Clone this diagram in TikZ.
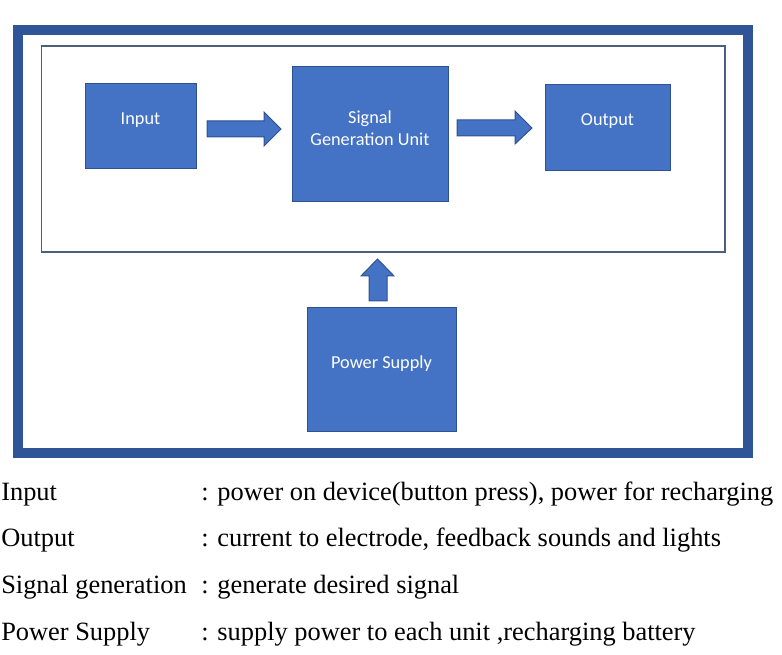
\documentclass[tikz,border=0pt]{standalone}
\usepackage{fontspec}
\setmainfont{Liberation Serif}
\newfontfamily\boxfont{Carlito}
\definecolor{boxfill}{HTML}{4472C4}
\definecolor{boxline}{HTML}{2F528F}
\definecolor{frameblue}{HTML}{2F5597}
\definecolor{innerline}{HTML}{4A5E7E}
\tikzset{
  box/.style={draw=boxline, fill=boxfill, line width=0.75pt, inner sep=0pt},
  boxtext/.style={text=white, font=\boxfont\fontsize{13.7pt}{16.5pt}\selectfont, align=center, inner sep=0pt},
  blockarrow/.style={draw=boxline, fill=boxfill, line width=0.75pt, line join=miter},
  legend/.style={font=\fontsize{19.8pt}{23pt}\selectfont, anchor=base west, inner sep=0pt}
}
\begin{document}
\begin{tikzpicture}[x=0.75pt, y=-0.75pt]
\useasboundingbox (0,0) rectangle (782,655);
% frames
\draw[frameblue, line width=7.5pt] (18,30) rectangle (748,453);
\draw[innerline, line width=1.1pt] (41.7,46) rectangle (725,252);
% boxes
\node[box, minimum width=83.25pt, minimum height=63.75pt] (in) at (140.5,126.5) {};
\node[box, minimum width=117pt, minimum height=101.25pt] (sig) at (370,134.5) {};
\node[box, minimum width=93.75pt, minimum height=64.5pt] (out) at (607.5,128) {};
\node[box, minimum width=111.75pt, minimum height=93pt] (pow) at (381.5,370) {};
\node[boxtext] (inT) at ([yshift=5pt]in.center) {Input};
\node[boxtext] (sigT) at ([yshift=5pt]sig.center) {Signal\\Generation Unit};
\node[boxtext] (outT) at ([yshift=5pt]out.center) {Output};
\node[boxtext] (powT) at ([yshift=5pt]pow.center) {Power Supply};
% block arrows
\draw[blockarrow] (207,121) -- (264,121) -- (264,112) -- (281,129) -- (264,146) -- (264,137) -- (207,137) -- cycle;
\draw[blockarrow] (457,120) -- (515,120) -- (515,111) -- (532,128) -- (515,144) -- (515,136) -- (457,136) -- cycle;
\draw[blockarrow] (369,301) -- (369,276) -- (361,276) -- (377.5,259) -- (394,276) -- (387,276) -- (387,301) -- cycle;
% legend
\node[legend] (l1) at (1,500.7) {Input};
\node[legend] (l2) at (1,547) {Output};
\node[legend] (l3) at (1,593.5) {Signal generation};
\node[legend] (l4) at (1,640) {Power Supply};
\node[legend] (d1) at (201,500.7) {: power on device(button press), power for recharging};
\node[legend] (d2) at (201,547) {: current to electrode, feedback sounds and lights};
\node[legend] (d3) at (201,593.5) {: generate desired signal};
\node[legend] (d4) at (201,640) {: supply power to each unit ,recharging battery};
\end{tikzpicture}
\end{document}
